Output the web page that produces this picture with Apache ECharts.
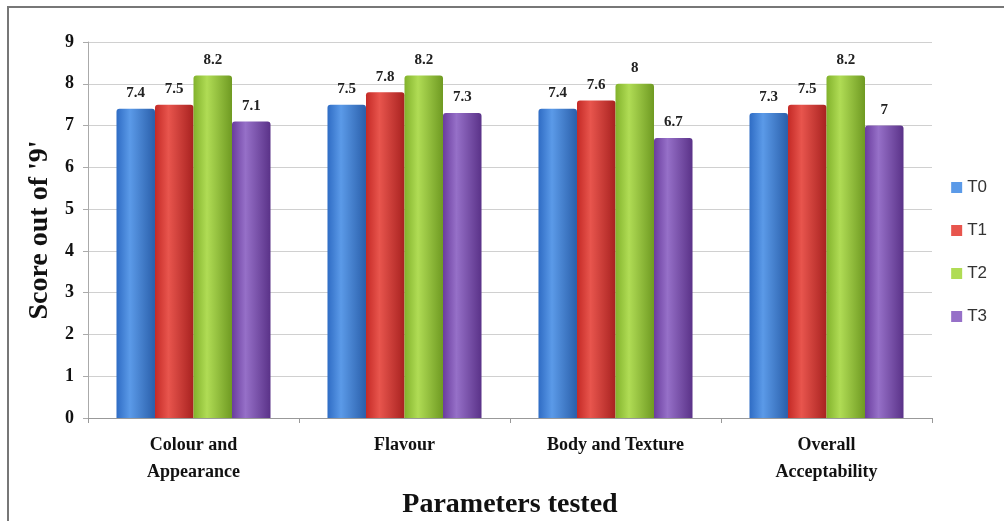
<!DOCTYPE html>
<html><head><meta charset="utf-8">
<script src="https://cdn.jsdelivr.net/npm/echarts@6/dist/echarts.min.js"></script>
<style>html,body{margin:0;padding:0;background:#fff}#c{width:1004px;height:521px}
#frame{position:absolute;left:7px;top:6px;width:1010px;height:530px;border:2px solid #777;box-sizing:border-box;pointer-events:none}</style>
</head><body><div id="c"></div><div id="frame"></div>
<script>
var categories = ['Colour and\nAppearance', 'Flavour', 'Body and Texture', 'Overall\nAcceptability'];
var seriesNames = ['T0', 'T1', 'T2', 'T3'];
var T0 = [7.4, 7.5, 7.4, 7.3];
var T1 = [7.5, 7.8, 7.6, 7.5];
var T2 = [8.2, 8.2, 8.0, 8.2];
var T3 = [7.1, 7.3, 6.7, 7.0];
var yTicks = [0, 1, 2, 3, 4, 5, 6, 7, 8, 9];

var colors = [
  ['#2f6cc4', '#5b9ae8', '#2a5faa'],
  ['#c42a26', '#e8554d', '#a82220'],
  ['#82b22c', '#b0dc55', '#6f9a22'],
  ['#6a3d9e', '#9670c8', '#5a3288']
];
function grad(c){
  return new echarts.graphic.LinearGradient(0,0,1,0,[
    {offset:0,color:c[0]},{offset:0.35,color:c[1]},{offset:1,color:c[2]}]);
}
var data = [T0, T1, T2, T3];
var serif = '"Liberation Serif","DejaVu Serif",serif';
var chart = echarts.init(document.getElementById('c'));
chart.setOption({
  animation:false,
  grid:{left:88,right:72,top:42,bottom:103,containLabel:false,outerBoundsMode:'none'},
  legend:{orient:'vertical',right:12,top:174,itemGap:26,itemWidth:11,itemHeight:11,
    icon:'rect',textStyle:{fontFamily:'"Liberation Sans",Arial,sans-serif',fontSize:17,color:'#333'},
    data:seriesNames.map(function(n,i){return {name:n,itemStyle:{color:colors[i][1]}};})},
  xAxis:{type:'category',data:categories,
    axisLine:{lineStyle:{color:'#999'}},
    axisTick:{show:true,length:5,lineStyle:{color:'#999'}},
    axisLabel:{fontFamily:serif,fontWeight:'bold',fontSize:18,color:'#111',lineHeight:27,margin:14},
    name:'Parameters tested',nameLocation:'middle',nameGap:71,
    nameTextStyle:{fontFamily:serif,fontWeight:'bold',fontSize:28,color:'#111'}},
  yAxis:{type:'value',min:0,max:9,interval:1,
    axisLine:{show:true,lineStyle:{color:'#aaa'}},
    axisTick:{show:true,length:5,lineStyle:{color:'#aaa'}},
    splitLine:{lineStyle:{color:'#d0d0d0'}},
    axisLabel:{fontFamily:serif,fontWeight:'bold',fontSize:18,color:'#111',margin:14,
      formatter:function(v){return yTicks.indexOf(v)>=0?String(v):'';}},
    name:"Score out of '9'",nameLocation:'middle',nameGap:33,
    nameTextStyle:{fontFamily:serif,fontWeight:'bold',fontSize:28,color:'#111'}},
  series:data.map(function(d,i){
    return {name:seriesNames[i],type:'bar',data:d,barGap:'0%',barCategoryGap:'27%',
      itemStyle:{color:grad(colors[i]),borderRadius:[3,3,0,0]},
      label:{show:true,position:'top',distance:8,fontFamily:serif,fontWeight:'bold',fontSize:15,color:'#222'}};
  })
});
</script></body></html>
